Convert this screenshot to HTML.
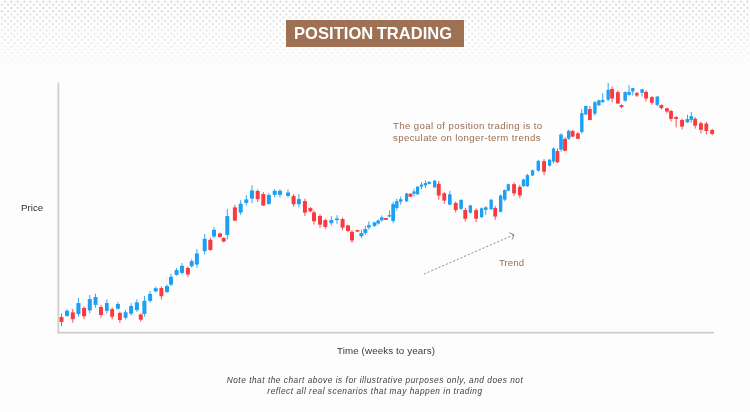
<!DOCTYPE html>
<html><head><meta charset="utf-8">
<style>
html,body{margin:0;padding:0;}
body{width:750px;height:412px;overflow:hidden;background:#fdfdfd;position:relative;font-family:"Liberation Sans",sans-serif;}
.abs{position:absolute;white-space:nowrap;will-change:transform;}
#title{left:286px;top:20px;width:178px;height:27px;background:#9e7155;color:#fff;font-weight:bold;font-size:16.5px;line-height:27px;text-align:left;text-indent:8px;letter-spacing:0.05px;word-spacing:-1.2px;}
#price{left:20.8px;top:201.9px;font-size:9.75px;color:#2e2e2e;line-height:12px;}
#time{left:337.3px;top:345.3px;font-size:9.75px;color:#3a3a3a;line-height:12px;letter-spacing:0.12px;}
#goal{left:393px;top:119.8px;font-size:9.6px;color:#9b6d52;line-height:11.5px;letter-spacing:0.4px;}
#trend{left:499px;top:257.2px;font-size:9.6px;color:#9b6d52;line-height:12px;letter-spacing:0.08px;}
#note{left:175px;top:375px;width:400px;text-align:center;font-size:8.3px;font-style:italic;color:#3d3d3d;line-height:10.6px;letter-spacing:0.52px;}
svg{position:absolute;left:0;top:0;}
</style></head><body>
<svg width="750" height="412" viewBox="0 0 750 412">
<defs>
<pattern id="dots" patternUnits="userSpaceOnUse" width="6.4" height="6.4">
<rect x="4.35" y="1.0" width="1.3" height="1.3" fill="#b0b0b0"/>
<rect x="1.15" y="4.2" width="1.3" height="1.3" fill="#b0b0b0"/>
</pattern>
<linearGradient id="fade" x1="0" y1="0" x2="0" y2="1">
<stop offset="0" stop-color="#fff" stop-opacity="1"/>
<stop offset="1" stop-color="#fff" stop-opacity="0"/>
</linearGradient>
<mask id="m"><rect x="0" y="0" width="750" height="74" fill="url(#fade)"/></mask>
</defs>
<rect x="0" y="0" width="750" height="74" fill="url(#dots)" mask="url(#m)"/>
<rect x="57.5" y="82.6" width="1.7" height="250.8" fill="#cdcdcd"/>
<rect x="57.5" y="331.8" width="656.5" height="1.7" fill="#cdcdcd"/>
<path d="M423.9 274.1 L514 234.7" stroke="#8a8a8a" stroke-width="1" stroke-dasharray="2 2" fill="none"/>
<path d="M509.3 232.9 L514 234.7 L512.2 239.4" stroke="#8a8a8a" stroke-width="1" fill="none"/>
<rect x="61.05" y="313.60" width="0.9" height="12.60" fill="#f93a3e"/>
<rect x="59.50" y="317.10" width="4.00" height="4.80" fill="#f93a3e"/>
<rect x="66.55" y="309.10" width="0.9" height="7.60" fill="#1d9ff4"/>
<rect x="65.00" y="310.80" width="4.00" height="5.10" fill="#1d9ff4"/>
<rect x="72.35" y="309.00" width="0.9" height="13.60" fill="#f93a3e"/>
<rect x="70.80" y="312.40" width="4.00" height="6.80" fill="#f93a3e"/>
<rect x="78.00" y="298.20" width="0.9" height="18.50" fill="#1d9ff4"/>
<rect x="76.40" y="303.10" width="4.10" height="11.00" fill="#1d9ff4"/>
<rect x="83.60" y="306.40" width="0.9" height="12.80" fill="#f93a3e"/>
<rect x="82.00" y="307.90" width="4.10" height="8.30" fill="#f93a3e"/>
<rect x="89.35" y="295.10" width="0.9" height="18.30" fill="#1d9ff4"/>
<rect x="87.80" y="299.10" width="4.00" height="11.30" fill="#1d9ff4"/>
<rect x="95.10" y="293.60" width="0.9" height="14.10" fill="#1d9ff4"/>
<rect x="93.60" y="297.00" width="3.90" height="7.90" fill="#1d9ff4"/>
<rect x="100.55" y="305.10" width="0.9" height="12.80" fill="#f93a3e"/>
<rect x="99.00" y="307.00" width="4.00" height="8.00" fill="#f93a3e"/>
<rect x="106.40" y="299.50" width="0.9" height="14.00" fill="#1d9ff4"/>
<rect x="105.00" y="303.00" width="3.70" height="7.80" fill="#1d9ff4"/>
<rect x="111.70" y="307.50" width="0.9" height="11.80" fill="#f93a3e"/>
<rect x="110.20" y="309.10" width="3.90" height="7.60" fill="#f93a3e"/>
<rect x="117.50" y="302.00" width="0.9" height="7.50" fill="#1d9ff4"/>
<rect x="116.00" y="304.00" width="3.90" height="4.70" fill="#1d9ff4"/>
<rect x="119.45" y="311.50" width="0.9" height="11.40" fill="#f93a3e"/>
<rect x="118.00" y="312.90" width="3.80" height="7.10" fill="#f93a3e"/>
<rect x="125.15" y="310.00" width="0.9" height="9.30" fill="#1d9ff4"/>
<rect x="123.70" y="312.20" width="3.80" height="5.60" fill="#1d9ff4"/>
<rect x="130.65" y="303.20" width="0.9" height="12.30" fill="#1d9ff4"/>
<rect x="129.10" y="306.00" width="4.00" height="7.70" fill="#1d9ff4"/>
<rect x="136.45" y="299.30" width="0.9" height="12.60" fill="#1d9ff4"/>
<rect x="134.90" y="302.40" width="4.00" height="7.70" fill="#1d9ff4"/>
<rect x="140.35" y="313.30" width="0.9" height="8.30" fill="#f93a3e"/>
<rect x="138.80" y="314.50" width="4.00" height="5.20" fill="#f93a3e"/>
<rect x="143.95" y="295.90" width="0.9" height="20.80" fill="#1d9ff4"/>
<rect x="142.40" y="300.80" width="4.00" height="13.10" fill="#1d9ff4"/>
<rect x="149.65" y="290.90" width="0.9" height="11.60" fill="#1d9ff4"/>
<rect x="148.10" y="293.90" width="4.00" height="7.00" fill="#1d9ff4"/>
<rect x="155.30" y="286.60" width="0.9" height="5.90" fill="#1d9ff4"/>
<rect x="153.70" y="288.20" width="4.10" height="3.10" fill="#1d9ff4"/>
<rect x="160.90" y="286.40" width="0.9" height="13.20" fill="#f93a3e"/>
<rect x="159.40" y="288.00" width="3.90" height="8.20" fill="#f93a3e"/>
<rect x="166.55" y="284.40" width="0.9" height="8.80" fill="#1d9ff4"/>
<rect x="165.00" y="286.10" width="4.00" height="5.80" fill="#1d9ff4"/>
<rect x="170.55" y="273.80" width="0.9" height="12.40" fill="#1d9ff4"/>
<rect x="169.00" y="276.80" width="4.00" height="7.80" fill="#1d9ff4"/>
<rect x="176.15" y="268.00" width="0.9" height="7.80" fill="#1d9ff4"/>
<rect x="174.60" y="270.10" width="4.00" height="4.80" fill="#1d9ff4"/>
<rect x="181.55" y="263.10" width="0.9" height="11.40" fill="#1d9ff4"/>
<rect x="180.00" y="265.80" width="4.00" height="7.10" fill="#1d9ff4"/>
<rect x="187.45" y="266.40" width="0.9" height="10.50" fill="#f93a3e"/>
<rect x="185.90" y="268.00" width="4.00" height="6.50" fill="#f93a3e"/>
<rect x="191.25" y="259.10" width="0.9" height="8.50" fill="#1d9ff4"/>
<rect x="189.70" y="261.10" width="4.00" height="5.10" fill="#1d9ff4"/>
<rect x="196.45" y="249.10" width="0.9" height="18.50" fill="#1d9ff4"/>
<rect x="194.90" y="253.50" width="4.00" height="11.00" fill="#1d9ff4"/>
<rect x="204.25" y="234.00" width="0.9" height="20.60" fill="#1d9ff4"/>
<rect x="202.70" y="238.80" width="4.00" height="12.40" fill="#1d9ff4"/>
<rect x="209.90" y="237.80" width="0.9" height="13.10" fill="#f93a3e"/>
<rect x="208.30" y="239.80" width="4.10" height="10.10" fill="#f93a3e"/>
<rect x="213.55" y="227.10" width="0.9" height="11.10" fill="#1d9ff4"/>
<rect x="212.00" y="229.80" width="4.00" height="6.70" fill="#1d9ff4"/>
<rect x="219.55" y="232.70" width="0.9" height="4.90" fill="#f93a3e"/>
<rect x="218.00" y="233.50" width="4.00" height="3.40" fill="#f93a3e"/>
<rect x="223.25" y="237.10" width="0.9" height="5.10" fill="#f93a3e"/>
<rect x="221.70" y="238.00" width="4.00" height="3.60" fill="#f93a3e"/>
<rect x="226.85" y="209.10" width="0.9" height="30.50" fill="#1d9ff4"/>
<rect x="225.30" y="216.10" width="4.00" height="18.80" fill="#1d9ff4"/>
<rect x="234.45" y="204.80" width="0.9" height="16.40" fill="#f93a3e"/>
<rect x="232.90" y="207.40" width="4.00" height="13.20" fill="#f93a3e"/>
<rect x="240.25" y="200.10" width="0.9" height="14.80" fill="#1d9ff4"/>
<rect x="238.70" y="203.80" width="4.00" height="8.80" fill="#1d9ff4"/>
<rect x="245.85" y="195.10" width="0.9" height="10.40" fill="#1d9ff4"/>
<rect x="244.30" y="199.40" width="4.00" height="3.50" fill="#1d9ff4"/>
<rect x="251.55" y="185.10" width="0.9" height="18.10" fill="#1d9ff4"/>
<rect x="250.00" y="190.50" width="4.00" height="8.10" fill="#1d9ff4"/>
<rect x="257.25" y="189.40" width="0.9" height="12.50" fill="#f93a3e"/>
<rect x="255.70" y="191.00" width="4.00" height="8.20" fill="#f93a3e"/>
<rect x="262.85" y="192.10" width="0.9" height="13.80" fill="#f93a3e"/>
<rect x="261.30" y="194.10" width="4.00" height="11.40" fill="#f93a3e"/>
<rect x="268.45" y="193.10" width="0.9" height="11.80" fill="#1d9ff4"/>
<rect x="266.90" y="195.00" width="4.00" height="8.90" fill="#1d9ff4"/>
<rect x="274.25" y="189.10" width="0.9" height="8.40" fill="#1d9ff4"/>
<rect x="272.70" y="190.80" width="4.00" height="4.00" fill="#1d9ff4"/>
<rect x="279.55" y="189.40" width="0.9" height="8.10" fill="#1d9ff4"/>
<rect x="278.00" y="190.80" width="4.00" height="4.00" fill="#1d9ff4"/>
<rect x="287.55" y="189.40" width="0.9" height="8.10" fill="#1d9ff4"/>
<rect x="286.00" y="192.50" width="4.00" height="3.40" fill="#1d9ff4"/>
<rect x="293.15" y="194.10" width="0.9" height="12.50" fill="#f93a3e"/>
<rect x="291.60" y="196.10" width="4.00" height="8.10" fill="#f93a3e"/>
<rect x="298.45" y="194.10" width="0.9" height="13.50" fill="#1d9ff4"/>
<rect x="296.90" y="199.10" width="4.00" height="5.10" fill="#1d9ff4"/>
<rect x="304.45" y="198.70" width="0.9" height="17.20" fill="#f93a3e"/>
<rect x="302.90" y="201.10" width="4.00" height="11.50" fill="#f93a3e"/>
<rect x="309.95" y="207.10" width="0.9" height="5.10" fill="#f93a3e"/>
<rect x="308.40" y="208.10" width="4.00" height="3.20" fill="#f93a3e"/>
<rect x="313.55" y="210.40" width="0.9" height="14.20" fill="#f93a3e"/>
<rect x="312.00" y="212.40" width="4.00" height="8.80" fill="#f93a3e"/>
<rect x="319.55" y="214.10" width="0.9" height="13.80" fill="#f93a3e"/>
<rect x="318.00" y="216.00" width="4.00" height="8.60" fill="#f93a3e"/>
<rect x="324.85" y="218.70" width="0.9" height="10.20" fill="#f93a3e"/>
<rect x="323.30" y="220.10" width="4.00" height="6.80" fill="#f93a3e"/>
<rect x="330.85" y="216.10" width="0.9" height="9.20" fill="#1d9ff4"/>
<rect x="329.30" y="220.10" width="4.00" height="3.10" fill="#1d9ff4"/>
<rect x="336.55" y="215.10" width="0.9" height="8.80" fill="#1d9ff4"/>
<rect x="335.00" y="218.55" width="4.00" height="1.50" fill="#1d9ff4"/>
<rect x="342.15" y="217.50" width="0.9" height="12.70" fill="#f93a3e"/>
<rect x="340.60" y="219.10" width="4.00" height="8.50" fill="#f93a3e"/>
<rect x="347.55" y="224.70" width="0.9" height="7.50" fill="#f93a3e"/>
<rect x="346.00" y="225.50" width="4.00" height="5.40" fill="#f93a3e"/>
<rect x="351.55" y="230.10" width="0.9" height="12.80" fill="#f93a3e"/>
<rect x="350.00" y="231.80" width="4.00" height="8.70" fill="#f93a3e"/>
<rect x="356.95" y="229.60" width="0.9" height="2.30" fill="#f93a3e"/>
<rect x="355.40" y="230.10" width="4.00" height="1.50" fill="#f93a3e"/>
<rect x="360.95" y="229.50" width="0.9" height="8.70" fill="#1d9ff4"/>
<rect x="359.40" y="233.10" width="4.00" height="3.10" fill="#1d9ff4"/>
<rect x="364.85" y="225.80" width="0.9" height="9.10" fill="#1d9ff4"/>
<rect x="363.30" y="229.10" width="4.00" height="3.80" fill="#1d9ff4"/>
<rect x="368.40" y="221.40" width="0.9" height="8.20" fill="#1d9ff4"/>
<rect x="367.00" y="225.10" width="3.70" height="2.40" fill="#1d9ff4"/>
<rect x="374.10" y="221.80" width="0.9" height="5.10" fill="#1d9ff4"/>
<rect x="372.70" y="222.40" width="3.70" height="3.50" fill="#1d9ff4"/>
<rect x="377.75" y="219.40" width="0.9" height="5.20" fill="#1d9ff4"/>
<rect x="376.40" y="220.50" width="3.60" height="3.00" fill="#1d9ff4"/>
<rect x="381.35" y="215.40" width="0.9" height="6.20" fill="#1d9ff4"/>
<rect x="380.00" y="217.40" width="3.60" height="2.90" fill="#1d9ff4"/>
<rect x="385.55" y="218.10" width="0.9" height="1.80" fill="#f93a3e"/>
<rect x="384.00" y="218.10" width="4.00" height="1.80" fill="#f93a3e"/>
<rect x="389.00" y="210.40" width="0.9" height="6.80" fill="#1d9ff4"/>
<rect x="387.60" y="215.10" width="3.70" height="1.50" fill="#1d9ff4"/>
<rect x="392.70" y="201.80" width="0.9" height="21.40" fill="#1d9ff4"/>
<rect x="391.30" y="204.10" width="3.70" height="16.80" fill="#1d9ff4"/>
<rect x="396.35" y="198.50" width="0.9" height="11.90" fill="#1d9ff4"/>
<rect x="395.10" y="201.10" width="3.40" height="6.90" fill="#1d9ff4"/>
<rect x="400.25" y="196.60" width="0.9" height="8.00" fill="#1d9ff4"/>
<rect x="399.00" y="199.20" width="3.40" height="2.50" fill="#1d9ff4"/>
<rect x="406.15" y="193.10" width="0.9" height="9.00" fill="#1d9ff4"/>
<rect x="405.00" y="193.50" width="3.20" height="7.80" fill="#1d9ff4"/>
<rect x="410.00" y="193.70" width="0.9" height="3.00" fill="#f93a3e"/>
<rect x="408.50" y="193.70" width="3.90" height="3.00" fill="#f93a3e"/>
<rect x="413.60" y="188.70" width="0.9" height="7.60" fill="#1d9ff4"/>
<rect x="412.40" y="191.40" width="3.30" height="2.40" fill="#1d9ff4"/>
<rect x="417.15" y="186.30" width="0.9" height="8.50" fill="#1d9ff4"/>
<rect x="416.00" y="186.60" width="3.20" height="7.70" fill="#1d9ff4"/>
<rect x="420.95" y="182.10" width="0.9" height="7.20" fill="#1d9ff4"/>
<rect x="419.80" y="184.60" width="3.20" height="2.00" fill="#1d9ff4"/>
<rect x="424.95" y="180.40" width="0.9" height="7.60" fill="#1d9ff4"/>
<rect x="423.70" y="183.10" width="3.40" height="2.30" fill="#1d9ff4"/>
<rect x="428.75" y="181.70" width="0.9" height="2.40" fill="#1d9ff4"/>
<rect x="427.60" y="181.70" width="3.20" height="2.40" fill="#1d9ff4"/>
<rect x="434.20" y="180.10" width="0.9" height="7.80" fill="#1d9ff4"/>
<rect x="433.00" y="180.70" width="3.30" height="6.60" fill="#1d9ff4"/>
<rect x="438.30" y="181.10" width="0.9" height="18.60" fill="#f93a3e"/>
<rect x="436.80" y="183.80" width="3.90" height="11.70" fill="#f93a3e"/>
<rect x="443.80" y="191.80" width="0.9" height="11.90" fill="#f93a3e"/>
<rect x="442.30" y="193.30" width="3.90" height="7.30" fill="#f93a3e"/>
<rect x="449.35" y="190.90" width="0.9" height="14.30" fill="#1d9ff4"/>
<rect x="448.00" y="194.30" width="3.60" height="10.30" fill="#1d9ff4"/>
<rect x="455.30" y="201.50" width="0.9" height="11.00" fill="#f93a3e"/>
<rect x="453.80" y="203.00" width="3.90" height="7.10" fill="#f93a3e"/>
<rect x="460.65" y="199.30" width="0.9" height="10.80" fill="#1d9ff4"/>
<rect x="459.30" y="199.90" width="3.60" height="8.90" fill="#1d9ff4"/>
<rect x="464.80" y="207.80" width="0.9" height="13.80" fill="#f93a3e"/>
<rect x="463.30" y="210.00" width="3.90" height="8.80" fill="#f93a3e"/>
<rect x="469.90" y="204.70" width="0.9" height="9.10" fill="#1d9ff4"/>
<rect x="468.70" y="205.50" width="3.30" height="7.20" fill="#1d9ff4"/>
<rect x="475.65" y="208.30" width="0.9" height="13.70" fill="#f93a3e"/>
<rect x="474.20" y="210.10" width="3.80" height="8.60" fill="#f93a3e"/>
<rect x="481.20" y="207.40" width="0.9" height="10.80" fill="#1d9ff4"/>
<rect x="480.00" y="208.30" width="3.30" height="8.80" fill="#1d9ff4"/>
<rect x="485.35" y="206.30" width="0.9" height="8.60" fill="#1d9ff4"/>
<rect x="484.00" y="207.40" width="3.60" height="2.50" fill="#1d9ff4"/>
<rect x="490.70" y="198.90" width="0.9" height="11.00" fill="#1d9ff4"/>
<rect x="489.50" y="199.80" width="3.30" height="9.40" fill="#1d9ff4"/>
<rect x="494.75" y="206.10" width="0.9" height="13.70" fill="#f93a3e"/>
<rect x="493.30" y="208.00" width="3.80" height="8.50" fill="#f93a3e"/>
<rect x="500.20" y="194.30" width="0.9" height="18.20" fill="#1d9ff4"/>
<rect x="499.00" y="195.60" width="3.30" height="16.20" fill="#1d9ff4"/>
<rect x="504.30" y="189.40" width="0.9" height="11.80" fill="#1d9ff4"/>
<rect x="503.00" y="190.10" width="3.50" height="9.50" fill="#1d9ff4"/>
<rect x="507.85" y="183.60" width="0.9" height="7.70" fill="#1d9ff4"/>
<rect x="506.70" y="184.20" width="3.20" height="6.50" fill="#1d9ff4"/>
<rect x="513.60" y="182.40" width="0.9" height="13.70" fill="#f93a3e"/>
<rect x="512.10" y="184.20" width="3.90" height="9.20" fill="#f93a3e"/>
<rect x="519.40" y="184.80" width="0.9" height="13.50" fill="#f93a3e"/>
<rect x="517.90" y="186.90" width="3.90" height="8.60" fill="#f93a3e"/>
<rect x="523.05" y="178.70" width="0.9" height="8.00" fill="#1d9ff4"/>
<rect x="521.80" y="179.60" width="3.40" height="6.60" fill="#1d9ff4"/>
<rect x="526.95" y="173.90" width="0.9" height="13.10" fill="#1d9ff4"/>
<rect x="525.70" y="175.10" width="3.40" height="11.10" fill="#1d9ff4"/>
<rect x="532.10" y="169.60" width="0.9" height="6.50" fill="#1d9ff4"/>
<rect x="530.90" y="170.30" width="3.30" height="5.20" fill="#1d9ff4"/>
<rect x="537.85" y="159.90" width="0.9" height="11.70" fill="#1d9ff4"/>
<rect x="536.60" y="160.90" width="3.40" height="9.80" fill="#1d9ff4"/>
<rect x="543.60" y="159.10" width="0.9" height="16.00" fill="#f93a3e"/>
<rect x="542.10" y="161.10" width="3.90" height="10.60" fill="#f93a3e"/>
<rect x="549.15" y="159.10" width="0.9" height="7.50" fill="#1d9ff4"/>
<rect x="548.00" y="159.70" width="3.20" height="6.00" fill="#1d9ff4"/>
<rect x="553.05" y="147.50" width="0.9" height="15.90" fill="#1d9ff4"/>
<rect x="551.90" y="148.50" width="3.20" height="13.00" fill="#1d9ff4"/>
<rect x="556.95" y="148.60" width="0.9" height="14.30" fill="#f93a3e"/>
<rect x="555.50" y="151.00" width="3.80" height="11.30" fill="#f93a3e"/>
<rect x="560.55" y="133.20" width="0.9" height="18.50" fill="#1d9ff4"/>
<rect x="559.20" y="134.60" width="3.60" height="15.00" fill="#1d9ff4"/>
<rect x="564.60" y="137.10" width="0.9" height="14.30" fill="#f93a3e"/>
<rect x="563.10" y="138.90" width="3.90" height="11.90" fill="#f93a3e"/>
<rect x="568.25" y="129.80" width="0.9" height="10.10" fill="#1d9ff4"/>
<rect x="567.00" y="130.80" width="3.40" height="7.90" fill="#1d9ff4"/>
<rect x="572.20" y="129.90" width="0.9" height="7.20" fill="#f93a3e"/>
<rect x="570.70" y="131.10" width="3.90" height="5.50" fill="#f93a3e"/>
<rect x="577.50" y="132.10" width="0.9" height="7.10" fill="#f93a3e"/>
<rect x="576.10" y="133.40" width="3.70" height="5.40" fill="#f93a3e"/>
<rect x="581.35" y="109.10" width="0.9" height="24.60" fill="#1d9ff4"/>
<rect x="580.10" y="113.10" width="3.40" height="19.00" fill="#1d9ff4"/>
<rect x="585.35" y="105.50" width="0.9" height="9.60" fill="#1d9ff4"/>
<rect x="584.10" y="106.00" width="3.40" height="8.40" fill="#1d9ff4"/>
<rect x="589.45" y="106.00" width="0.9" height="14.30" fill="#f93a3e"/>
<rect x="588.00" y="109.10" width="3.80" height="10.90" fill="#f93a3e"/>
<rect x="594.45" y="101.10" width="0.9" height="14.60" fill="#1d9ff4"/>
<rect x="593.20" y="102.20" width="3.40" height="11.50" fill="#1d9ff4"/>
<rect x="598.45" y="99.70" width="0.9" height="6.20" fill="#1d9ff4"/>
<rect x="597.20" y="100.30" width="3.40" height="5.00" fill="#1d9ff4"/>
<rect x="602.30" y="93.40" width="0.9" height="9.30" fill="#1d9ff4"/>
<rect x="601.10" y="99.90" width="3.30" height="2.30" fill="#1d9ff4"/>
<rect x="607.70" y="83.00" width="0.9" height="18.20" fill="#1d9ff4"/>
<rect x="606.50" y="89.90" width="3.30" height="9.80" fill="#1d9ff4"/>
<rect x="611.60" y="86.40" width="0.9" height="15.80" fill="#f93a3e"/>
<rect x="610.10" y="89.00" width="3.90" height="9.50" fill="#f93a3e"/>
<rect x="617.45" y="90.30" width="0.9" height="13.30" fill="#f93a3e"/>
<rect x="616.00" y="92.20" width="3.80" height="11.40" fill="#f93a3e"/>
<rect x="621.05" y="104.30" width="0.9" height="3.90" fill="#f93a3e"/>
<rect x="619.60" y="105.10" width="3.80" height="1.90" fill="#f93a3e"/>
<rect x="624.70" y="91.20" width="0.9" height="10.50" fill="#1d9ff4"/>
<rect x="623.40" y="92.20" width="3.50" height="8.50" fill="#1d9ff4"/>
<rect x="628.60" y="85.10" width="0.9" height="10.50" fill="#1d9ff4"/>
<rect x="627.30" y="91.90" width="3.50" height="3.00" fill="#1d9ff4"/>
<rect x="632.35" y="87.80" width="0.9" height="7.80" fill="#1d9ff4"/>
<rect x="631.20" y="88.00" width="3.20" height="3.50" fill="#1d9ff4"/>
<rect x="636.40" y="92.10" width="0.9" height="4.80" fill="#f93a3e"/>
<rect x="635.10" y="92.90" width="3.50" height="2.70" fill="#f93a3e"/>
<rect x="641.60" y="88.80" width="0.9" height="7.80" fill="#1d9ff4"/>
<rect x="640.30" y="89.30" width="3.50" height="3.40" fill="#1d9ff4"/>
<rect x="645.60" y="90.30" width="0.9" height="11.20" fill="#f93a3e"/>
<rect x="644.10" y="91.90" width="3.90" height="6.60" fill="#f93a3e"/>
<rect x="651.45" y="96.10" width="0.9" height="8.60" fill="#f93a3e"/>
<rect x="650.00" y="97.10" width="3.80" height="5.60" fill="#f93a3e"/>
<rect x="656.80" y="96.10" width="0.9" height="10.00" fill="#1d9ff4"/>
<rect x="655.50" y="96.60" width="3.50" height="8.30" fill="#1d9ff4"/>
<rect x="660.90" y="104.40" width="0.9" height="5.10" fill="#f93a3e"/>
<rect x="659.40" y="105.10" width="3.90" height="3.00" fill="#f93a3e"/>
<rect x="666.50" y="107.80" width="0.9" height="5.60" fill="#f93a3e"/>
<rect x="665.00" y="108.30" width="3.90" height="3.20" fill="#f93a3e"/>
<rect x="670.55" y="109.80" width="0.9" height="11.70" fill="#f93a3e"/>
<rect x="669.10" y="111.00" width="3.80" height="7.90" fill="#f93a3e"/>
<rect x="675.70" y="116.10" width="0.9" height="11.20" fill="#f93a3e"/>
<rect x="674.20" y="117.10" width="3.90" height="1.80" fill="#f93a3e"/>
<rect x="681.60" y="118.40" width="0.9" height="11.10" fill="#f93a3e"/>
<rect x="680.10" y="120.00" width="3.90" height="6.60" fill="#f93a3e"/>
<rect x="687.00" y="114.70" width="0.9" height="8.00" fill="#1d9ff4"/>
<rect x="685.60" y="119.10" width="3.70" height="3.20" fill="#1d9ff4"/>
<rect x="690.80" y="112.00" width="0.9" height="10.70" fill="#1d9ff4"/>
<rect x="689.50" y="116.10" width="3.50" height="3.70" fill="#1d9ff4"/>
<rect x="694.70" y="117.10" width="0.9" height="11.50" fill="#f93a3e"/>
<rect x="693.20" y="118.80" width="3.90" height="6.90" fill="#f93a3e"/>
<rect x="700.50" y="121.70" width="0.9" height="11.70" fill="#f93a3e"/>
<rect x="699.00" y="123.20" width="3.90" height="6.60" fill="#f93a3e"/>
<rect x="705.85" y="121.70" width="0.9" height="12.70" fill="#f93a3e"/>
<rect x="704.40" y="123.60" width="3.80" height="7.40" fill="#f93a3e"/>
<rect x="711.70" y="128.80" width="0.9" height="6.60" fill="#f93a3e"/>
<rect x="710.20" y="130.00" width="3.90" height="3.90" fill="#f93a3e"/>
</svg>
<div id="title" class="abs">POSITION TRADING</div>
<div id="price" class="abs">Price</div>
<div id="time" class="abs">Time (weeks to years)</div>
<div id="goal" class="abs">The goal of position trading is to<br>speculate on longer-term trends</div>
<div id="trend" class="abs">Trend</div>
<div id="note" class="abs">Note that the chart above is for illustrative purposes only, and does not<br>reflect all real scenarios that may happen in trading</div>
</body></html>
